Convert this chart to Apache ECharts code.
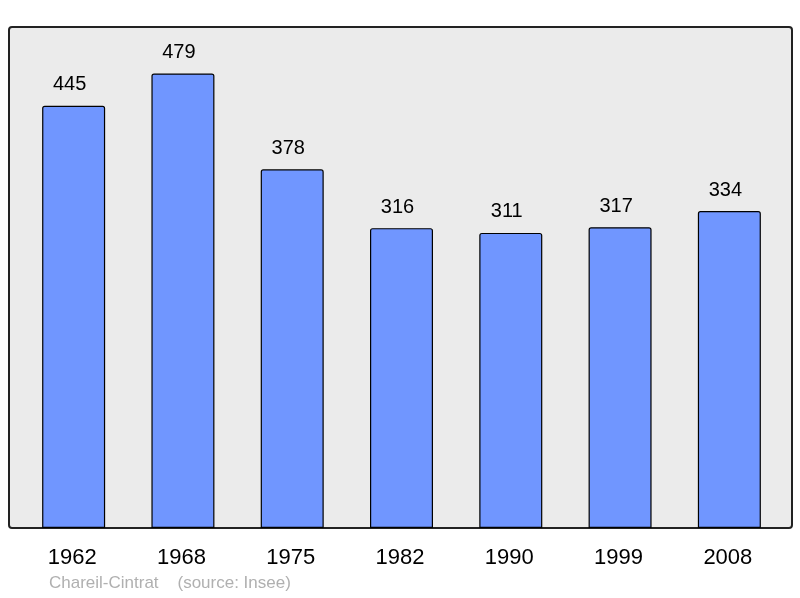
<!DOCTYPE html>
<html><head><meta charset="utf-8">
<script src="https://cdn.jsdelivr.net/npm/echarts@6/dist/echarts.min.js"></script>
<style>html,body{margin:0;padding:0;background:#fff}#c{width:800px;height:598px}</style>
</head><body><div id="c"></div>
<script>
const categories = ['1962','1968','1975','1982','1990','1999','2008'];
const population = [445,479,378,316,311,317,334];
const footer = 'Chareil-Cintrat    (source: Insee)';

const chart = echarts.init(document.getElementById('c'), null, {renderer:'canvas'});
chart.setOption({
  backgroundColor:'#ffffff',
  animation:false,
  textStyle:{fontFamily:'Liberation Sans, Arial, sans-serif'},
  graphic:[
    {type:'rect', z:-10, shape:{x:9, y:27, width:783, height:501, r:3},
     style:{fill:'#ebebeb', stroke:'#222', lineWidth:2}},
    {type:'text', left:49, top:575, style:{text:footer, fill:'#b0b0b0', font:'17px Liberation Sans, Arial, sans-serif'}}
  ],
  grid:{left:19, right:16, top:27, bottom:70},
  xAxis:{type:'category', data:categories,
    axisLine:{show:false}, axisTick:{show:false},
    axisLabel:{color:'#000', fontSize:22, margin:19, padding:[0,3,0,0]}},
  yAxis:{type:'value', min:0, max:528, show:false, splitLine:{show:false}},
  series:[{type:'bar', data:population, barWidth:63,
    itemStyle:{color:'#7096ff', borderColor:'#000', borderWidth:1.2, borderRadius:[2,2,0,0]},
    label:{show:true, position:'top', distance:11, offset:[-4,0], color:'#000', fontSize:20}}]
});
</script></body></html>
